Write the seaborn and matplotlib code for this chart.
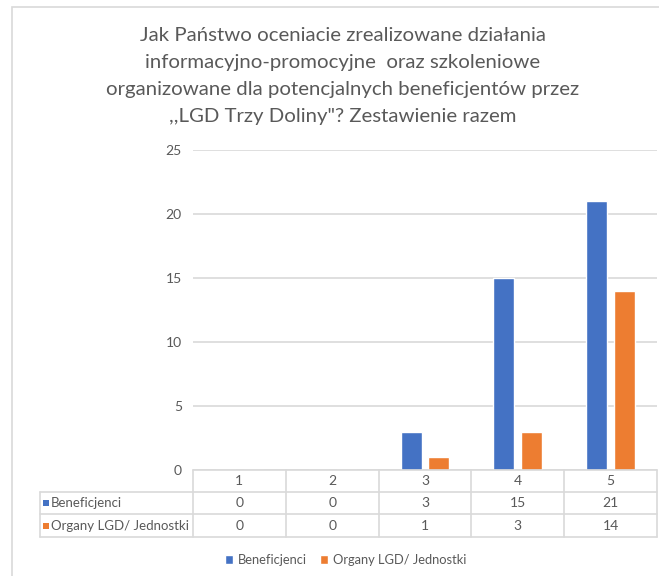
import matplotlib
matplotlib.use("Agg")
import numpy as np
import pandas as pd
import seaborn as sns
from matplotlib import pyplot as plt
from matplotlib import transforms
from matplotlib.lines import Line2D
from matplotlib.patches import Rectangle

categories = ["1", "2", "3", "4", "5"]
series_names = ["Beneficjenci", "Organy LGD/ Jednostki"]
beneficjenci = [0, 0, 3, 15, 21]
organy = [0, 0, 1, 3, 14]
title = ("Jak Państwo oceniacie zrealizowane działania\n"
         "informacyjno-promocyjne  oraz szkoleniowe\n"
         "organizowane dla potencjalnych beneficjentów przez\n"
         ",,LGD Trzy Doliny\"? Zestawienie razem")

colors = {"Beneficjenci": "#4472C4", "Organy LGD/ Jednostki": "#ED7D31"}
text_color = "#595959"
grid_color = "#D9D9D9"

df = pd.DataFrame({
    "ocena": categories * 2,
    "liczba": beneficjenci + organy,
    "seria": [series_names[0]] * 5 + [series_names[1]] * 5,
})

sns.set_theme(style="white")
plt.rcParams["font.family"] = ["Lato", "DejaVu Sans"]

W, H = 659, 576
fig = plt.figure(figsize=(W / 100, H / 100), dpi=100)


def fy(y):
    return 1 - y / H


# chart frame (Excel-style border, runs off the right and bottom)
fig.patches.append(Rectangle((12 / W, fy(700)), 2, 693 / H,
                             transform=fig.transFigure, fill=False,
                             edgecolor=grid_color, lw=1.2))

ax = fig.add_axes([193 / W, fy(470), 464 / W, 320 / H])
sns.barplot(data=df, x="ocena", y="liczba", hue="seria", palette=colors,
            width=0.6, gap=0.25, ax=ax, legend=True, saturation=1)

ax.set_ylim(0, 25)
ax.set_xlim(-0.5, 4.5)
ax.set_yticks(range(0, 26, 5))
ax.yaxis.grid(True, color=grid_color, lw=1.2)
ax.set_axisbelow(True)
for s in ax.spines.values():
    s.set_visible(False)
ax.tick_params(axis="y", length=0, pad=8, labelsize=10, labelcolor=text_color)
ax.tick_params(axis="x", length=0, labelbottom=False)
ax.set_xlabel("")
ax.set_ylabel("")

handles, labels = ax.get_legend_handles_labels()
ax.get_legend().remove()

fig.text(343 / W, fy(76), title, ha="center", va="center", fontsize=14.7,
         color=text_color, linespacing=1.72)

# data table under the axis
blend = transforms.blended_transform_factory(ax.transData, fig.transFigure)
row_tops = [470, 492, 514, 537]
bounds = np.arange(len(categories) + 1) - 0.5
line_kw = dict(color=grid_color, lw=1.2, transform=blend)
x_left = ax.transData.inverted().transform(
    fig.transFigure.transform((40 / W, 0)))[0]

fig.add_artist(Line2D([bounds[0], bounds[-1]], [fy(470)] * 2, **line_kw))
for y in row_tops[1:]:
    fig.add_artist(Line2D([x_left, bounds[-1]], [fy(y)] * 2, **line_kw))
for b in bounds:
    fig.add_artist(Line2D([b, b], [fy(470), fy(537)], **line_kw))
fig.add_artist(Line2D([x_left, x_left], [fy(492), fy(537)], **line_kw))

for i, cat in enumerate(categories):
    fig.text(i, fy(481), cat, transform=blend, ha="center", va="center",
             fontsize=10, color=text_color)
for r, (name, vals) in enumerate(zip(series_names, [beneficjenci, organy])):
    yc = fy((row_tops[r + 1] + row_tops[r + 2]) / 2)
    for i, v in enumerate(vals):
        fig.text(i, yc, str(v), transform=blend, ha="center", va="center",
                 fontsize=10, color=text_color)
    fig.add_artist(Rectangle((43 / W, yc - 3 / H), 6 / W, 6 / H,
                             transform=fig.transFigure,
                             color=colors[name], lw=0))
    fig.text(51 / W, yc, name, ha="left", va="center", fontsize=9.5,
             color=text_color)

fig.legend(handles, labels, loc="center", bbox_to_anchor=(346 / W, fy(560)),
           ncol=2, frameon=False, fontsize=9.3, labelcolor=text_color,
           handlelength=0.6, handleheight=0.6, handletextpad=0.4,
           columnspacing=1.0)

fig.savefig("out.png", dpi=100)
